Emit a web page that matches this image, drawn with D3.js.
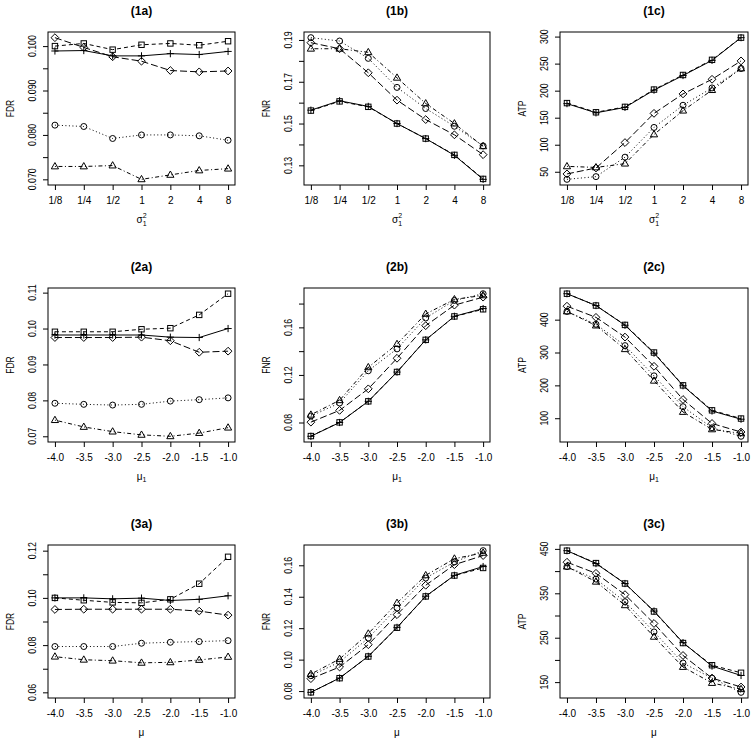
<!DOCTYPE html>
<html>
<head>
<meta charset="utf-8">
<script src="https://cdn.jsdelivr.net/npm/d3@7"></script>
<style>
  html, body { margin: 0; padding: 0; background: #ffffff; }
  svg { display: block; }
  text { font-family: "Liberation Sans", Arial, Helvetica, sans-serif; fill: #000; }
</style>
</head>
<body>
<svg id="chart" width="754" height="746"></svg>
<script>
// ---------------- DATA ----------------
const seriesNames = ["plus", "square", "circle", "triangle", "diamond"];

const sigmaLabels = ["1/8", "1/4", "1/2", "1", "2", "4", "8"];
const sigmaIndex = [1, 2, 3, 4, 5, 6, 7];
const muValues = [-4.0, -3.5, -3.0, -2.5, -2.0, -1.5, -1.0];

// rows: plus, square, circle, triangle, diamond
const fdr1 = [
  [0.0989, 0.0990, 0.0978, 0.0978, 0.0983, 0.0981, 0.0988],
  [0.1000, 0.1006, 0.0992, 0.1003, 0.1006, 0.1002, 0.1011],
  [0.0822, 0.0819, 0.0792, 0.0800, 0.0800, 0.0798, 0.0788],
  [0.0729, 0.0729, 0.0731, 0.0700, 0.0710, 0.0720, 0.0724],
  [0.1019, 0.0997, 0.0976, 0.0966, 0.0945, 0.0942, 0.0944]
];
const fnr1 = [
  [0.1564, 0.1609, 0.1582, 0.1500, 0.1428, 0.1348, 0.1233],
  [0.1562, 0.1606, 0.1580, 0.1500, 0.1428, 0.1350, 0.1235],
  [0.1911, 0.1895, 0.1812, 0.1673, 0.1572, 0.1487, 0.1393],
  [0.1858, 0.1858, 0.1841, 0.1719, 0.1596, 0.1500, 0.1391],
  [0.1887, 0.1858, 0.1743, 0.1612, 0.1519, 0.1446, 0.1351]
];
const atp1 = [
  [176, 159, 169, 201, 228, 256, 298],
  [177, 160, 170, 202, 229, 257, 298],
  [36, 41, 77, 132, 173, 205, 241],
  [60, 58, 65, 119, 163, 201, 241],
  [46, 57, 104, 158, 194, 221, 255]
];
const fdr2 = [
  [0.0982, 0.0982, 0.0982, 0.0982, 0.0976, 0.0975, 0.1000],
  [0.0991, 0.0991, 0.0991, 0.0998, 0.1001, 0.1038, 0.1097],
  [0.0792, 0.0789, 0.0787, 0.0789, 0.0798, 0.0802, 0.0807],
  [0.0745, 0.0726, 0.0713, 0.0704, 0.0700, 0.0709, 0.0724],
  [0.0975, 0.0975, 0.0975, 0.0976, 0.0966, 0.0934, 0.0937]
];
const fnr2 = [
  [0.0684, 0.0800, 0.0978, 0.1224, 0.1495, 0.1693, 0.1758],
  [0.0686, 0.0801, 0.0978, 0.1225, 0.1495, 0.1692, 0.1752],
  [0.0854, 0.0964, 0.1235, 0.1419, 0.1679, 0.1826, 0.1883],
  [0.0865, 0.0987, 0.1264, 0.1459, 0.1713, 0.1835, 0.1869],
  [0.0803, 0.0902, 0.1083, 0.1340, 0.1614, 0.1787, 0.1854]
];
const atp2 = [
  [479, 443, 383, 298, 199, 122, 97],
  [479, 443, 384, 300, 200, 124, 99],
  [425, 386, 321, 229, 135, 71, 45],
  [425, 382, 310, 214, 119, 66, 54],
  [441, 407, 347, 258, 157, 84, 58]
];
const fdr3 = [
  [0.1000, 0.1000, 0.0996, 0.0999, 0.0989, 0.0994, 0.1009],
  [0.1000, 0.0990, 0.0981, 0.0979, 0.0994, 0.1060, 0.1174],
  [0.0794, 0.0794, 0.0794, 0.0808, 0.0812, 0.0815, 0.0819],
  [0.0751, 0.0738, 0.0734, 0.0725, 0.0727, 0.0737, 0.0750],
  [0.0951, 0.0952, 0.0952, 0.0952, 0.0952, 0.0944, 0.0927]
];
const fnr3 = [
  [0.0792, 0.0883, 0.1021, 0.1205, 0.1403, 0.1536, 0.1592],
  [0.0792, 0.0882, 0.1020, 0.1203, 0.1402, 0.1535, 0.1583],
  [0.0898, 0.0985, 0.1137, 0.1328, 0.1519, 0.1621, 0.1693],
  [0.0908, 0.1004, 0.1165, 0.1360, 0.1536, 0.1642, 0.1679],
  [0.0879, 0.0953, 0.1095, 0.1286, 0.1473, 0.1604, 0.1662]
];
const atp3 = [
  [446, 417, 372, 310, 239, 186, 165],
  [446, 418, 372, 309, 238, 188, 171],
  [410, 382, 331, 263, 193, 159, 127],
  [410, 376, 323, 252, 184, 148, 134],
  [420, 395, 347, 282, 210, 159, 139]
];

// y tick values and which of them carry labels
const yTicks1a = [0.070, 0.075, 0.080, 0.085, 0.090, 0.095, 0.100];
const yLabels1a = [0.070, 0.080, 0.090, 0.100];
const yTicks1b = [0.13, 0.14, 0.15, 0.16, 0.17, 0.18, 0.19];
const yLabels1b = [0.13, 0.15, 0.17, 0.19];
const yTicks1c = [50, 100, 150, 200, 250, 300];
const yTicks2a = [0.07, 0.08, 0.09, 0.10, 0.11];
const yTicks2b = [0.08, 0.10, 0.12, 0.14, 0.16, 0.18];
const yLabels2b = [0.08, 0.12, 0.16];
const yTicks2c = [100, 200, 300, 400];
const yTicks3a = [0.06, 0.07, 0.08, 0.09, 0.10, 0.11, 0.12];
const yLabels3a = [0.06, 0.08, 0.10, 0.12];
const yLimits3a = [0.06, 0.12];
const yTicks3b = [0.08, 0.10, 0.12, 0.14, 0.16];
const yTicks3c = [150, 200, 250, 300, 350, 400, 450];
const yLabels3c = [150, 250, 350, 450];

// ---------------- LAYOUT / STYLE ----------------
const colX = [[48, 235], [304, 490], [560, 748]];
const rowY = [[32, 185], [288, 442], [545, 698]];
const dash = { plus: null, square: "4,3", circle: "1,2.5", triangle: "1,2.5,4,2.5", diamond: "7,3" };

const panels = [
  { title: "(1a)", r: 0, c: 0, ylab: "FDR", xk: "sigma", vals: fdr1, ticks: yTicks1a, labels: yLabels1a, fmt: ".3f" },
  { title: "(1b)", r: 0, c: 1, ylab: "FNR", xk: "sigma", vals: fnr1, ticks: yTicks1b, labels: yLabels1b, fmt: ".2f" },
  { title: "(1c)", r: 0, c: 2, ylab: "ATP", xk: "sigma", vals: atp1, ticks: yTicks1c, labels: yTicks1c, fmt: "d" },
  { title: "(2a)", r: 1, c: 0, ylab: "FDR", xk: "mu1", vals: fdr2, ticks: yTicks2a, labels: yTicks2a, fmt: ".2f" },
  { title: "(2b)", r: 1, c: 1, ylab: "FNR", xk: "mu1", vals: fnr2, ticks: yTicks2b, labels: yLabels2b, fmt: ".2f" },
  { title: "(2c)", r: 1, c: 2, ylab: "ATP", xk: "mu1", vals: atp2, ticks: yTicks2c, labels: yTicks2c, fmt: "d" },
  { title: "(3a)", r: 2, c: 0, ylab: "FDR", xk: "mu", vals: fdr3, ticks: yTicks3a, labels: yLabels3a, fmt: ".2f", lim: yLimits3a },
  { title: "(3b)", r: 2, c: 1, ylab: "FNR", xk: "mu", vals: fnr3, ticks: yTicks3b, labels: yTicks3b, fmt: ".2f" },
  { title: "(3c)", r: 2, c: 2, ylab: "ATP", xk: "mu", vals: atp3, ticks: yTicks3c, labels: yLabels3c, fmt: "d" }
];

const svg = d3.select("#chart");

function rPad(ext) {
  const d = (ext[1] - ext[0]) * 0.04;
  return [ext[0] - d, ext[1] + d];
}

function marker(sel, kind, x, y) {
  const g = sel.append("g").attr("fill", "none").attr("stroke", "#000").attr("stroke-width", 1);
  if (kind === "plus") {
    g.append("path").attr("d", `M${x - 3.6},${y}H${x + 3.6}M${x},${y - 3.6}V${y + 3.6}`);
  } else if (kind === "square") {
    g.append("rect").attr("x", x - 2.7).attr("y", y - 2.7).attr("width", 5.4).attr("height", 5.4);
  } else if (kind === "circle") {
    g.append("circle").attr("cx", x).attr("cy", y).attr("r", 3);
  } else if (kind === "triangle") {
    g.append("path").attr("d", `M${x},${y - 3.9}L${x + 3.6},${y + 2.4}L${x - 3.6},${y + 2.4}Z`);
  } else if (kind === "diamond") {
    g.append("path").attr("d", `M${x},${y - 3.9}L${x + 3.9},${y}L${x},${y + 3.9}L${x - 3.9},${y}Z`);
  }
}

panels.forEach(p => {
  const [x0, x1] = colX[p.c];
  const [y0, y1] = rowY[p.r];
  const xs = p.xk === "sigma" ? sigmaIndex : muValues;
  const x = d3.scaleLinear().domain(rPad(d3.extent(xs))).range([x0, x1]);
  const all = p.vals.flat();
  const ydom = p.lim ? rPad(p.lim) : rPad(d3.extent(all));
  const y = d3.scaleLinear().domain(ydom).range([y1, y0]);
  const g = svg.append("g");

  // title
  g.append("text").attr("x", (x0 + x1) / 2).attr("y", y0 - 17)
    .attr("text-anchor", "middle").attr("font-size", 12).attr("font-weight", "bold").text(p.title);

  // x axis
  const xAxis = p.xk === "sigma"
    ? d3.axisBottom(x).tickValues(sigmaIndex).tickFormat((d, i) => sigmaLabels[i])
    : d3.axisBottom(x).tickValues(muValues).tickFormat(d3.format(".1f"));
  const xg = g.append("g").attr("transform", `translate(0,${y1})`).call(xAxis);
  xg.select(".domain").remove();
  xg.selectAll(".tick line").attr("y2", 5);
  xg.selectAll(".tick text").attr("y", 12).attr("dy", "0.71em").attr("font-size", 10)
    .attr("font-family", "Liberation Sans, Arial, sans-serif")
    .text(function () { return d3.select(this).text().replace("\u2212", "-"); });

  // y axis
  const yAxis = d3.axisLeft(y).tickValues(p.ticks).tickFormat("");
  const yg = g.append("g").attr("transform", `translate(${x0},0)`).call(yAxis);
  yg.select(".domain").remove();
  yg.selectAll(".tick line").attr("x2", -5);
  const f = d3.format(p.fmt);
  p.labels.forEach(v => {
    g.append("text")
      .attr("transform", `translate(${x0 - 12},${y(v)}) rotate(-90) scale(0.88,1)`)
      .attr("text-anchor", "middle").attr("font-size", 10).text(f(v));
  });

  // y label
  g.append("text")
    .attr("transform", `translate(${x0 - 34},${(y0 + y1) / 2}) rotate(-90) scale(0.85,1)`)
    .attr("text-anchor", "middle").attr("font-size", 10).text(p.ylab);

  // x label
  const xl = g.append("text").attr("x", (x0 + x1) / 2).attr("y", y1 + 38)
    .attr("text-anchor", "middle").attr("font-size", 10);
  if (p.xk === "sigma") {
    xl.append("tspan").text("\u03C3");
    xl.append("tspan").attr("font-size", 7).attr("dy", 3).text("1");
    xl.append("tspan").attr("font-size", 7).attr("dx", -3.9).attr("dy", -8).text("2");
  } else if (p.xk === "mu1") {
    xl.append("tspan").text("\u03BC");
    xl.append("tspan").attr("font-size", 7).attr("dy", 2).text("1");
  } else {
    xl.text("\u03BC");
  }

  // box
  g.append("rect").attr("x", x0).attr("y", y0).attr("width", x1 - x0).attr("height", y1 - y0)
    .attr("fill", "none").attr("stroke", "#000").attr("stroke-width", 1);

  // series
  const line = d3.line().x((d, i) => x(xs[i])).y(d => y(d));
  p.vals.forEach((vals, si) => {
    const name = seriesNames[si];
    g.append("path").datum(vals).attr("d", line)
      .attr("fill", "none").attr("stroke", "#000").attr("stroke-width", 1)
      .attr("stroke-dasharray", dash[name]);
    vals.forEach((v, i) => marker(g, name, x(xs[i]), y(v)));
  });
});
</script>
</body>
</html>
